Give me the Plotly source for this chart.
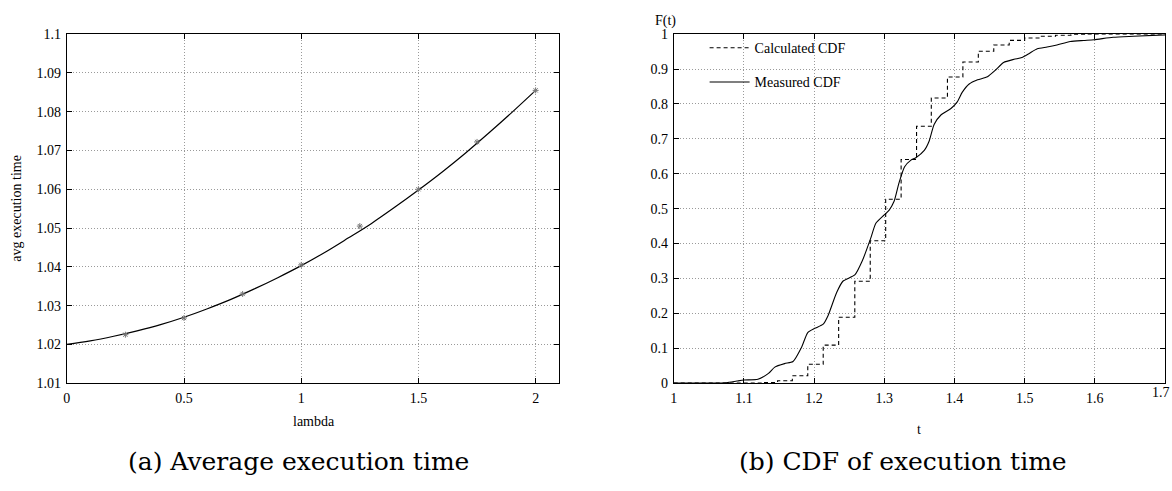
import plotly.graph_objects as go

# ---------------- data: (a) average execution time ----------------
lam_curve = [0.0, 0.1, 0.2, 0.3, 0.4, 0.5, 0.6, 0.7, 0.8, 0.9, 1.0,
             1.1, 1.2, 1.3, 1.4, 1.5, 1.6, 1.7, 1.8, 1.9, 2.0]
avg_curve = [1.0200, 1.0209, 1.0221, 1.0235, 1.0251, 1.0270, 1.0292, 1.0316,
             1.0343, 1.0372, 1.0403, 1.0437, 1.0474, 1.0512, 1.0554, 1.0598,
             1.0644, 1.0693, 1.0745, 1.0799, 1.0855]
lam_meas = [0.25, 0.5, 0.75, 1.0, 1.25, 1.5, 1.75, 2.0]
avg_meas = [1.0225, 1.0268, 1.0330, 1.0405, 1.0505, 1.0600, 1.0722, 1.0855]

# ---------------- data: (b) CDF of execution time ----------------
t_calc = [1.000, 1.126, 1.148, 1.169, 1.191, 1.213, 1.235, 1.258, 1.280, 1.302,
          1.324, 1.346, 1.367, 1.390, 1.412, 1.434, 1.456, 1.478, 1.500, 1.522,
          1.544, 1.566, 1.588, 1.700]
F_calc = [0.000, 0.002, 0.007, 0.021, 0.054, 0.109, 0.189, 0.292, 0.408, 0.527,
          0.641, 0.736, 0.817, 0.877, 0.920, 0.951, 0.969, 0.982, 0.989, 0.994,
          0.997, 0.999, 1.000, 1.000]

t_meas = [1.000, 1.050, 1.075, 1.090, 1.100, 1.120, 1.135, 1.144, 1.158, 1.170,
          1.182, 1.191, 1.201, 1.213, 1.220, 1.232, 1.241, 1.258, 1.269, 1.281,
          1.288, 1.300, 1.307, 1.314, 1.321, 1.329, 1.338, 1.345, 1.357, 1.364,
          1.371, 1.381, 1.395, 1.404, 1.411, 1.421, 1.433, 1.447, 1.459, 1.470,
          1.485, 1.496, 1.506, 1.518, 1.532, 1.546, 1.565, 1.584, 1.599, 1.626,
          1.655, 1.700]
F_meas = [0.000, 0.000, 0.001, 0.006, 0.009, 0.011, 0.028, 0.046, 0.056, 0.062,
          0.102, 0.145, 0.157, 0.169, 0.194, 0.259, 0.292, 0.310, 0.352, 0.417,
          0.458, 0.482, 0.496, 0.521, 0.574, 0.620, 0.639, 0.646, 0.667, 0.694,
          0.741, 0.769, 0.787, 0.806, 0.833, 0.857, 0.869, 0.878, 0.898, 0.919,
          0.928, 0.933, 0.944, 0.958, 0.963, 0.969, 0.979, 0.982, 0.984, 0.991,
          0.994, 0.998]

left_xticks = [0, 0.5, 1, 1.5, 2]
left_xlabels = ["0", "0.5", "1", "1.5", "2"]
left_yticks = [1.01, 1.02, 1.03, 1.04, 1.05, 1.06, 1.07, 1.08, 1.09, 1.1]
left_ylabels = ["1.01", "1.02", "1.03", "1.04", "1.05", "1.06", "1.07", "1.08", "1.09", "1.1"]
right_xticks = [1, 1.1, 1.2, 1.3, 1.4, 1.5, 1.6, 1.7]
right_xlabels = ["1", "1.1", "1.2", "1.3", "1.4", "1.5", "1.6", "1.7"]
right_yticks = [0, 0.1, 0.2, 0.3, 0.4, 0.5, 0.6, 0.7, 0.8, 0.9, 1]
right_ylabels = ["0", "0.1", "0.2", "0.3", "0.4", "0.5", "0.6", "0.7", "0.8", "0.9", "1"]

W, H = 1172, 491
SERIF = "Liberation Serif"
CAP = "DejaVu Serif"

fig = go.Figure()

fig.add_trace(go.Scatter(x=lam_curve, y=avg_curve, mode="lines", line=dict(color="black", width=1.2, shape="spline"),
                         showlegend=False, xaxis="x", yaxis="y"))
fig.add_trace(go.Scatter(x=lam_meas, y=avg_meas, mode="markers",
                         marker=dict(symbol="asterisk-open", size=5, color="#777777", line=dict(width=1, color="#777777")),
                         showlegend=False, xaxis="x", yaxis="y"))

fig.add_trace(go.Scatter(x=t_calc, y=F_calc, mode="lines", name="Calculated CDF",
                         line=dict(color="black", width=1.1, dash="4px,3px", shape="hv"),
                         legendgroup="a", xaxis="x2", yaxis="y2"))
fig.add_trace(go.Scatter(x=t_meas, y=F_meas, mode="lines", name="Measured CDF",
                         line=dict(color="black", width=1.1, shape="spline", smoothing=0.6),
                         legendgroup="b", xaxis="x2", yaxis="y2"))

ydom = [(H - 388) / H, (H - 28) / H]

def axis_style(**kw):
    d = dict(showline=True, mirror="ticks", linecolor="black", linewidth=1,
             ticks="inside", ticklen=5, tickcolor="black", tickwidth=1,
             showgrid=True, gridcolor="#9a9a9a", griddash="1px,2px", gridwidth=1,
             zeroline=False, tickfont=dict(family=SERIF, size=14, color="black"))
    d.update(kw)
    return d

# last tick label of the right x axis sits on the page edge; it is shown
# through an annotation kept inside the page so nothing overflows
rx_text_axis = right_xlabels[:-1]

fig.update_layout(
    width=W, height=H, margin=dict(l=0, r=0, t=0, b=0),
    paper_bgcolor="white", plot_bgcolor="white",
    xaxis=axis_style(domain=[63 / W, 557 / W], range=[0, 2.1], tickvals=left_xticks, ticktext=left_xlabels,
                     anchor="y", ticklabelstandoff=2),
    yaxis=axis_style(domain=ydom, range=[1.01, 1.1], tickvals=left_yticks, ticktext=left_ylabels,
                     anchor="x", ticklabelstandoff=2),
    xaxis2=axis_style(domain=[672 / W, 1165 / W], range=[1, 1.7], tickvals=right_xticks,
                      ticktext=rx_text_axis + [""], anchor="y2", ticklabelstandoff=2),
    yaxis2=axis_style(domain=ydom, range=[0, 1], tickvals=right_yticks, ticktext=right_ylabels,
                      anchor="x2", ticklabelstandoff=2),
    legend=dict(x=703 / W, y=1 - 26 / H, xanchor="left", yanchor="top", bgcolor="rgba(0,0,0,0)",
                font=dict(family=SERIF, size=14, color="black"), traceorder="grouped",
                tracegroupgap=13, itemwidth=40),
    showlegend=True,
)

ann = [
    dict(text="avg execution time", x=13 / W, y=1 - 207 / H, textangle=-90, font=dict(family=SERIF, size=14)),
    dict(text="lambda", x=311 / W, y=1 - 428 / H, font=dict(family=SERIF, size=14)),
    dict(text="t", x=918 / W, y=1 - 436 / H, font=dict(family=SERIF, size=14)),
    dict(text="F(t)", x=664 / W, y=1 - 14 / H, font=dict(family=SERIF, size=14)),
    dict(text="(a) Average execution time", x=296 / W, y=1 - 469 / H, font=dict(family=CAP, size=25)),
    dict(text="(b) CDF of execution time", x=902 / W, y=1 - 469 / H, font=dict(family=CAP, size=25)),
    dict(text=right_xlabels[-1], x=1.0, y=1 - 398 / H, xanchor="right", font=dict(family=SERIF, size=14)),
]
for a in ann:
    a.update(xref="paper", yref="paper", showarrow=False, yanchor="middle")
    a.setdefault("xanchor", "center")
    a["font"]["color"] = "black"
fig.update_layout(annotations=ann)

fig.write_html("out.html")
